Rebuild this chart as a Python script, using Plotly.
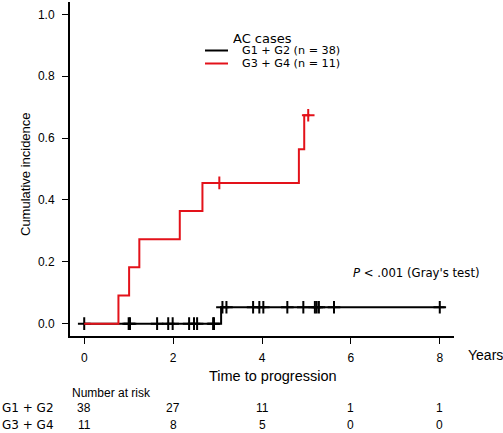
import numpy as np
import plotly.graph_objects as go

# ---- data ----
groups = ["G1 + G2 (n = 38)", "G3 + G4 (n = 11)"]
row_labels = ["G1 + G2", "G3 + G4"]

g12_event_times = [3.08]
g12_cif = [0.053]
g12_censor_times = [0.0, 1.0, 1.03, 1.64, 1.89, 1.99, 2.36, 2.47, 2.54, 2.90, 2.92,
                    3.11, 3.20, 3.80, 3.94, 4.03, 4.57, 4.93, 5.19, 5.23, 5.28, 5.62, 8.0]
g12_end = 8.11

g34_event_times = [0.77, 1.01, 1.24, 2.15, 2.66, 4.83, 4.95]
g34_cif = [0.091, 0.182, 0.273, 0.364, 0.455, 0.564, 0.674]
g34_censor_times = [3.04, 5.04]
g34_end = 5.08

risk_times = [0, 2, 4, 6, 8]
risk_g12 = [38, 27, 11, 1, 1]
risk_g34 = [11, 8, 5, 0, 0]

x_ticks = [0, 2, 4, 6, 8]
y_ticks = [0.0, 0.2, 0.4, 0.6, 0.8, 1.0]

BLACK = "#000000"
RED = "#e3121a"

W, H = 503, 433
L, R, T, B = 70, 49, 2, 97
PW, PH = W - L - R, H - T - B


def px(xpix):
    return (xpix - L) / PW


def py(ypix):
    return (H - B - ypix) / PH


def step_value(times, cif, t):
    idx = np.searchsorted(np.array(times), t, side="right")
    return 0.0 if idx == 0 else cif[idx - 1]


fig = go.Figure()

for times, cif, end, cens, color in [
    (g12_event_times, g12_cif, g12_end, g12_censor_times, BLACK),
    (g34_event_times, g34_cif, g34_end, g34_censor_times, RED),
]:
    xs = [0.0] + list(times) + [end]
    ys = [0.0] + list(cif) + [cif[-1]]
    fig.add_trace(go.Scatter(x=xs, y=ys, mode="lines", line=dict(color=color, width=2, shape="hv"),
                             showlegend=False, hoverinfo="skip"))
    fig.add_trace(go.Scatter(x=cens, y=[step_value(times, cif, t) for t in cens], mode="markers",
                             marker=dict(symbol="cross-thin", size=9, color=color,
                                         line=dict(color=color, width=2)),
                             showlegend=False, hoverinfo="skip"))

fig.update_xaxes(range=[-0.32, 8.32], tickvals=x_ticks, ticktext=[str(v) for v in x_ticks],
                 showline=True, linecolor="black", linewidth=2, ticks="outside", ticklen=6,
                 tickwidth=1, tickcolor="black", showgrid=False, zeroline=False,
                 tickfont=dict(family="Liberation Sans, Arial", size=12, color="black"),
                 ticklabelstandoff=4)
fig.update_yaxes(range=[-0.04, 1.04], tickvals=y_ticks, ticktext=[f"{v:.1f}" for v in y_ticks],
                 showline=True, linecolor="black", linewidth=2, ticks="outside", ticklen=6,
                 tickwidth=1, tickcolor="black", showgrid=False, zeroline=False,
                 tickfont=dict(family="Liberation Sans, Arial", size=12, color="black"),
                 ticklabelstandoff=5)

ann = []
SANS = "Liberation Sans, Arial"
VERD = "DejaVu Sans, Verdana"
ann.append(dict(text="Cumulative incidence", x=px(25), y=py(174), xref="paper", yref="paper",
                textangle=-90, showarrow=False, font=dict(family=SANS, size=13, color="black"),
                xanchor="center", yanchor="middle"))
ann.append(dict(text="Years", x=px(466), y=py(355), xref="paper", yref="paper", showarrow=False,
                font=dict(family=SANS, size=14, color="black"), xanchor="left", yanchor="middle"))
ann.append(dict(text="Time to progression", x=px(272.5), y=py(376), xref="paper", yref="paper",
                showarrow=False, font=dict(family=SANS, size=14.5, color="black"),
                xanchor="center", yanchor="middle"))
ann.append(dict(text="Number at risk", x=px(70), y=py(392.5), xref="paper", yref="paper",
                showarrow=False, font=dict(family=SANS, size=12, color="black"),
                xanchor="left", yanchor="middle"))
for lab, vals, ypix in [(row_labels[0], risk_g12, 408.5), (row_labels[1], risk_g34, 425)]:
    ann.append(dict(text=lab, x=px(0), y=py(ypix), xref="paper", yref="paper", showarrow=False,
                    font=dict(family=VERD, size=12, color="black"), xanchor="left", yanchor="middle"))
    for t, v in zip(risk_times, vals):
        ann.append(dict(text=str(v), x=t, y=py(ypix), xref="x", yref="paper", showarrow=False,
                        font=dict(family=SANS, size=12, color="black"),
                        xanchor="center", yanchor="middle"))
ann.append(dict(text="<i>P</i> < .001 (Gray's test)", x=px(351), y=py(272.5), xref="paper",
                yref="paper", showarrow=False, font=dict(family=VERD, size=11.7, color="black"),
                xanchor="left", yanchor="middle"))
# legend
ann.append(dict(text="AC cases", x=px(232), y=py(38), xref="paper", yref="paper", showarrow=False,
                font=dict(family=VERD, size=13, color="black"), xanchor="left", yanchor="middle",
                height=12, borderpad=0))
shapes = []
for name, color, ypix in [(groups[0], BLACK, 50.5), (groups[1], RED, 63.5)]:
    ann.append(dict(text=name, x=px(241), y=py(ypix), xref="paper", yref="paper", showarrow=False,
                    font=dict(family=VERD, size=11.2, color="black"), xanchor="left",
                    yanchor="middle", height=11, borderpad=0))
    shapes.append(dict(type="line", xref="paper", yref="paper", x0=px(205), x1=px(228),
                       y0=py(ypix), y1=py(ypix), line=dict(color=color, width=2)))

fig.update_layout(width=W, height=H, margin=dict(l=L, r=R, t=T, b=B),
                  paper_bgcolor="white", plot_bgcolor="white", annotations=ann, shapes=shapes,
                  showlegend=False)

fig.write_html("out.html", config={"displayModeBar": False},
               post_script="document.body.style.margin='0';document.body.style.overflow='hidden';")
